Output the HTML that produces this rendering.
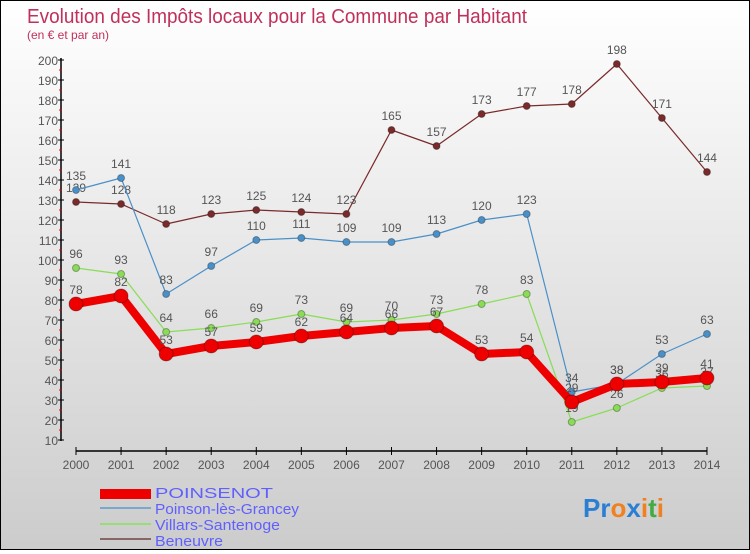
<!DOCTYPE html>
<html><head><meta charset="utf-8"><style>
body{margin:0}
#c{width:748px;height:548px;border:1px solid #000;background:linear-gradient(#fff,#ccc);position:relative;font-family:"Liberation Sans",sans-serif}
</style></head><body>
<div id="c">
<svg id="s" width="748" height="548" xmlns="http://www.w3.org/2000/svg">
<text x="26" y="22" font-size="20" fill="#c0305a" textLength="500" lengthAdjust="spacingAndGlyphs">Evolution des Impôts locaux pour la Commune par Habitant</text>
<text x="26" y="38" font-size="12" fill="#c0305a">(en € et par an)</text>
<g id="axes"></g><g id="series"></g>
<g font-size="15" fill="#6060ff">
<rect x="99" y="488" width="51" height="10" fill="#e00"/>
<text x="154" y="497" textLength="118" lengthAdjust="spacingAndGlyphs">POINSENOT</text>
<line x1="99" y1="507" x2="150" y2="507" stroke="#7aa8cc" stroke-width="2"/>
<text x="154" y="513" textLength="144" lengthAdjust="spacingAndGlyphs">Poinson-lès-Grancey</text>
<line x1="99" y1="523" x2="150" y2="523" stroke="#99dd77" stroke-width="2"/>
<text x="154" y="529" textLength="125" lengthAdjust="spacingAndGlyphs">Villars-Santenoge</text>
<line x1="99" y1="538" x2="150" y2="538" stroke="#886666" stroke-width="2"/>
<text x="154" y="545" textLength="68" lengthAdjust="spacingAndGlyphs">Beneuvre</text>
</g>
<text x="582" y="516" font-size="26" font-weight="bold"><tspan fill="#2a7fd4">Pr</tspan><tspan fill="#f08020">o</tspan><tspan fill="#2a7fd4">x</tspan><tspan fill="#f08020">i</tspan><tspan fill="#44aa44">t</tspan><tspan fill="#f08020">i</tspan></text>
</svg></div>
<script>
const years=[2000,2001,2002,2003,2004,2005,2006,2007,2008,2009,2010,2011,2012,2013,2014];
const yTicks=[10,20,30,40,50,60,70,80,90,100,110,120,130,140,150,160,170,180,190,200];
const poinsenot=[78,82,53,57,59,62,64,66,67,53,54,29,38,39,41];
const poinson=[135,141,83,97,110,111,109,109,113,120,123,34,38,53,63];
const villars=[96,93,64,66,69,73,69,70,73,78,83,19,26,36,37];
const beneuvre=[129,128,118,123,125,124,123,165,157,173,177,178,198,171,144];
const NS="http://www.w3.org/2000/svg";
const X=i=>75+i*45.07, Y=v=>439-(v-10)*2;
function mk(t,a,p){const e=document.createElementNS(NS,t);for(const k in a)e.setAttribute(k,a[k]);p.appendChild(e);return e;}
const ax=document.getElementById('axes');
mk('line',{x1:60,y1:57,x2:60,y2:440,stroke:'#000','stroke-width':1.5},ax);
mk('line',{x1:75,y1:450,x2:706,y2:450,stroke:'#000','stroke-width':1.5},ax);
yTicks.forEach(v=>{
 mk('line',{x1:57,y1:Y(v),x2:63,y2:Y(v),stroke:'#000'},ax);
 if(v<200)mk('line',{x1:58,y1:Y(v+5),x2:61,y2:Y(v+5),stroke:'#e00'},ax);
 const t=mk('text',{x:57,y:Y(v)+5,'text-anchor':'end','font-size':12,fill:'#555'},ax);
 t.textContent=v;
 
 
});
years.forEach((y,i)=>{
 mk('line',{x1:X(i),y1:446,x2:X(i),y2:454,stroke:'#000'},ax);
 const t=mk('text',{x:X(i),y:468,'text-anchor':'middle','font-size':12,fill:'#555'},ax);
 t.textContent=y;
 
 
});
const sg=document.getElementById('series');
function draw(d,col,w,r,name){
 const g=mk('g',{},sg);
 
 
 mk('polyline',{points:d.map((v,i)=>X(i)+','+Y(v)).join(' '),fill:'none',stroke:col,'stroke-width':w,'stroke-linejoin':'round'},g);
 d.forEach((v,i)=>{
  const c=mk('circle',{cx:X(i),cy:Y(v),r:r,fill:col,stroke:'rgba(0,0,0,0.3)'},g);
  
  
  const t=mk('text',{x:X(i),y:Y(v)-10,'text-anchor':'middle','font-size':12,fill:'#555'},g);
  t.textContent=v;
 });
}
draw(beneuvre,'#7a2a2a',1.2,3.5,'series-beneuvre');
draw(poinson,'#4a90c8',1.2,3.5,'series-poinson');
draw(villars,'#88dd55',1.2,3.5,'series-villars');
draw(poinsenot,'#ee0000',8,7,'series-poinsenot');
</script>
</body></html>
